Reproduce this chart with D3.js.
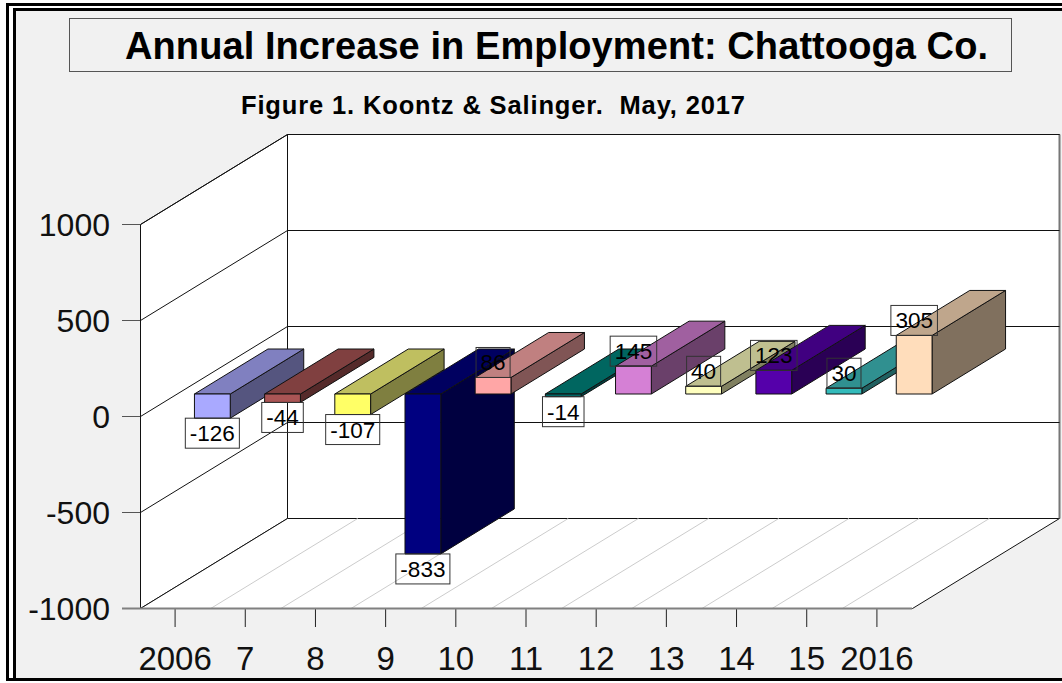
<!DOCTYPE html>
<html>
<head>
<meta charset="utf-8">
<script src="https://cdn.jsdelivr.net/npm/d3@7"></script>
<style>
  html, body { margin: 0; padding: 0; background: #fff; }
  svg { display: block; font-family: "Liberation Sans", Arial, sans-serif; }
</style>
</head>
<body>
<svg id="chart" width="1062" height="683"></svg>
<script>
const years = ["2006", "7", "8", "9", "10", "11", "12", "13", "14", "15", "2016"];
const increases = [-126, -44, -107, -833, 86, -14, 145, 40, 123, 30, 305];
const yTicks = [-1000, -500, 0, 500, 1000];
const frontColors = ["#A9A9FF", "#AA5555", "#FFFF66", "#000080", "#FFA6A6", "#006666", "#D580D5", "#FFFFBF", "#5500AA", "#33BBBB", "#FFDDBB"];
const topColors = ["#8080C0", "#804040", "#BFBF60", "#000060", "#C08080", "#006660", "#A060A0", "#BFBF90", "#400080", "#309090", "#BFA68C"];
const sideColors = ["#55557F", "#552A2A", "#7F7F40", "#000040", "#805555", "#004040", "#6A406A", "#808060", "#2A0055", "#206060", "#80705E"];

const svg = d3.select("#chart");
const ink = "#111";

const x = d3.scaleBand().domain(years).range([140, 912]);
const y = d3.scaleLinear().domain([-1000, 1000]).range([608, 224]);

// depth 0 = front plane, 1 = back wall
const depthX = 147, depthY = -90;
const pt = (px, py, d) => [px + depthX * d, py + depthY * d];
const poly = (pts) => "M" + pts.map((p) => p.join(",")).join("L") + "Z";

// frame
svg.append("rect").attr("x", 7.5).attr("y", 4.5).attr("width", 1070).attr("height", 675)
  .attr("fill", "none").attr("stroke", "#000").attr("stroke-width", 3);
svg.append("rect").attr("x", 14.5).attr("y", 9.5).attr("width", 1060).attr("height", 670)
  .attr("fill", "#F1F1F1").attr("stroke", "#000").attr("stroke-width", 3);

// title
svg.append("rect").attr("x", 69.5).attr("y", 18.5).attr("width", 942).attr("height", 53)
  .attr("fill", "#F1F1F1").attr("stroke", "#555");
svg.append("text").attr("x", 125).attr("y", 59)
  .attr("font-size", 38).attr("font-weight", "bold").attr("fill", "#000")
  .attr("textLength", 863).attr("lengthAdjust", "spacing")
  .text("Annual Increase in Employment: Chattooga Co.");
svg.append("text").attr("x", 241).attr("y", 114)
  .attr("font-size", 25.5).attr("font-weight", "bold").attr("fill", "#000")
  .attr("xml:space", "preserve").style("white-space", "pre")
  .attr("textLength", 504).attr("lengthAdjust", "spacing")
  .text("Figure 1. Koontz & Salinger.  May, 2017");

// walls and floor
const [x0, x1] = x.range();
const [yB, yT] = y.range();
const walls = svg.append("g").attr("transform", "translate(0.5,0.5)");
walls.append("path").attr("d", poly([pt(x0, yB, 0), pt(x0, yT, 0), pt(x0, yT, 1), pt(x0, yB, 1)]))
  .attr("fill", "#fff").attr("stroke", ink);
walls.append("path").attr("d", poly([pt(x0, yT, 1), pt(x1, yT, 1), pt(x1, yB, 1), pt(x0, yB, 1)]))
  .attr("fill", "#fff").attr("stroke", ink);
walls.append("path").attr("d", poly([pt(x0, yB, 0), pt(x1, yB, 0), pt(x1, yB, 1), pt(x0, yB, 1)]))
  .attr("fill", "#fff").attr("stroke", ink);
walls.append("line")
  .attr("x1", x1 + depthX).attr("y1", yT + depthY).attr("x2", x1 + depthX).attr("y2", yB + depthY)
  .attr("stroke", "#777").attr("stroke-width", 2);

// floor lines between the years
walls.selectAll(".floor").data(years.slice(1)).enter().append("line")
  .attr("class", "floor")
  .attr("x1", (d) => x(d)).attr("y1", yB)
  .attr("x2", (d) => x(d) + depthX).attr("y2", yB + depthY)
  .attr("stroke", "#ccc");

// gridlines on left and back walls
walls.selectAll(".grid").data(yTicks.slice(2)).enter().append("path")
  .attr("class", "grid")
  .attr("d", (d) => "M" + pt(x0, y(d), 0).join(",") + "L" + pt(x0, y(d), 1).join(",") + "L" + pt(x1, y(d), 1).join(","))
  .attr("fill", "none").attr("stroke", ink);
walls.append("path")
  .attr("d", "M" + pt(x0, y(-500), 0).join(",") + "L" + pt(x0, y(-500), 1).join(",") + "L" + pt(x1, y(-500), 1).join(","))
  .attr("fill", "none").attr("stroke", ink);

// axes
const yAxis = svg.append("g").attr("transform", `translate(${x0},0)`)
  .call(d3.axisLeft(y).tickValues(yTicks).tickSize(18).tickPadding(12).tickFormat((d) => String(d)));
yAxis.select(".domain").remove();
yAxis.selectAll("line").attr("stroke", "#555");
yAxis.selectAll("text").attr("font-size", 32).attr("font-family", "Liberation Sans").attr("fill", "#111")
  .attr("dy", "0.37em");

const xAxis = svg.append("g").attr("transform", `translate(0,${yB})`)
  .call(d3.axisBottom(x).tickSize(19).tickPadding(20));
xAxis.select(".domain").remove();
xAxis.selectAll("line").attr("stroke", "#222");
xAxis.selectAll("text").attr("font-size", 33).attr("font-family", "Liberation Sans").attr("fill", "#111");

svg.append("line").attr("x1", x0 - 18).attr("x2", x1).attr("y1", yB + 0.5).attr("y2", yB + 0.5)
  .attr("stroke", "#808080").attr("stroke-width", 2);

// bars sit between 1/4 and 3/4 of the depth
const barW = x.bandwidth() * 0.51;
const barLeft = (i) => x(years[i]) + (x.bandwidth() - barW) / 2;
const dFront = 0.25, dBack = 0.75;

const bars = svg.append("g").attr("transform", "translate(0.5,0.5)")
  .selectAll(".bar").data(increases).enter().append("g").attr("class", "bar");
bars.append("path") // side
  .attr("d", (v, i) => {
    const r = barLeft(i) + barW;
    return poly([pt(r, y(Math.max(v, 0)), dFront), pt(r, y(Math.max(v, 0)), dBack), pt(r, y(Math.min(v, 0)), dBack), pt(r, y(Math.min(v, 0)), dFront)]);
  })
  .attr("fill", (v, i) => sideColors[i]).attr("stroke", ink);
bars.append("path") // top
  .attr("d", (v, i) => {
    const l = barLeft(i), t = y(Math.max(v, 0));
    return poly([pt(l, t, dFront), pt(l, t, dBack), pt(l + barW, t, dBack), pt(l + barW, t, dFront)]);
  })
  .attr("fill", (v, i) => topColors[i]).attr("stroke", ink);
bars.append("path") // front
  .attr("d", (v, i) => {
    const l = barLeft(i), t = y(Math.max(v, 0)), b = y(Math.min(v, 0));
    return poly([pt(l, t, dFront), pt(l + barW, t, dFront), pt(l + barW, b, dFront), pt(l, b, dFront)]);
  })
  .attr("fill", (v, i) => frontColors[i]).attr("stroke", ink);

// value labels: see-through boxes above or below the bar
const labelH = 30;
const labels = svg.append("g").attr("transform", "translate(0.5,0.5)")
  .selectAll(".lab").data(increases).enter().append("g").attr("class", "lab")
  .attr("transform", (v, i) => {
    const p = pt(barLeft(i) + barW / 2, y(v), dFront);
    return `translate(${p[0]},${v < 0 ? p[1] : p[1] - labelH})`;
  });
labels.append("text").attr("y", 23).attr("text-anchor", "middle")
  .attr("font-size", 22.5).attr("fill", "#000").text((v) => v);
labels.insert("rect", "text")
  .each(function () {
    const w = this.parentNode.querySelector("text").getComputedTextLength() + 9;
    d3.select(this).attr("x", -w / 2).attr("width", w);
  })
  .attr("y", 0).attr("height", labelH)
  .attr("fill", "none").attr("stroke", "#333");
</script>
</body>
</html>
